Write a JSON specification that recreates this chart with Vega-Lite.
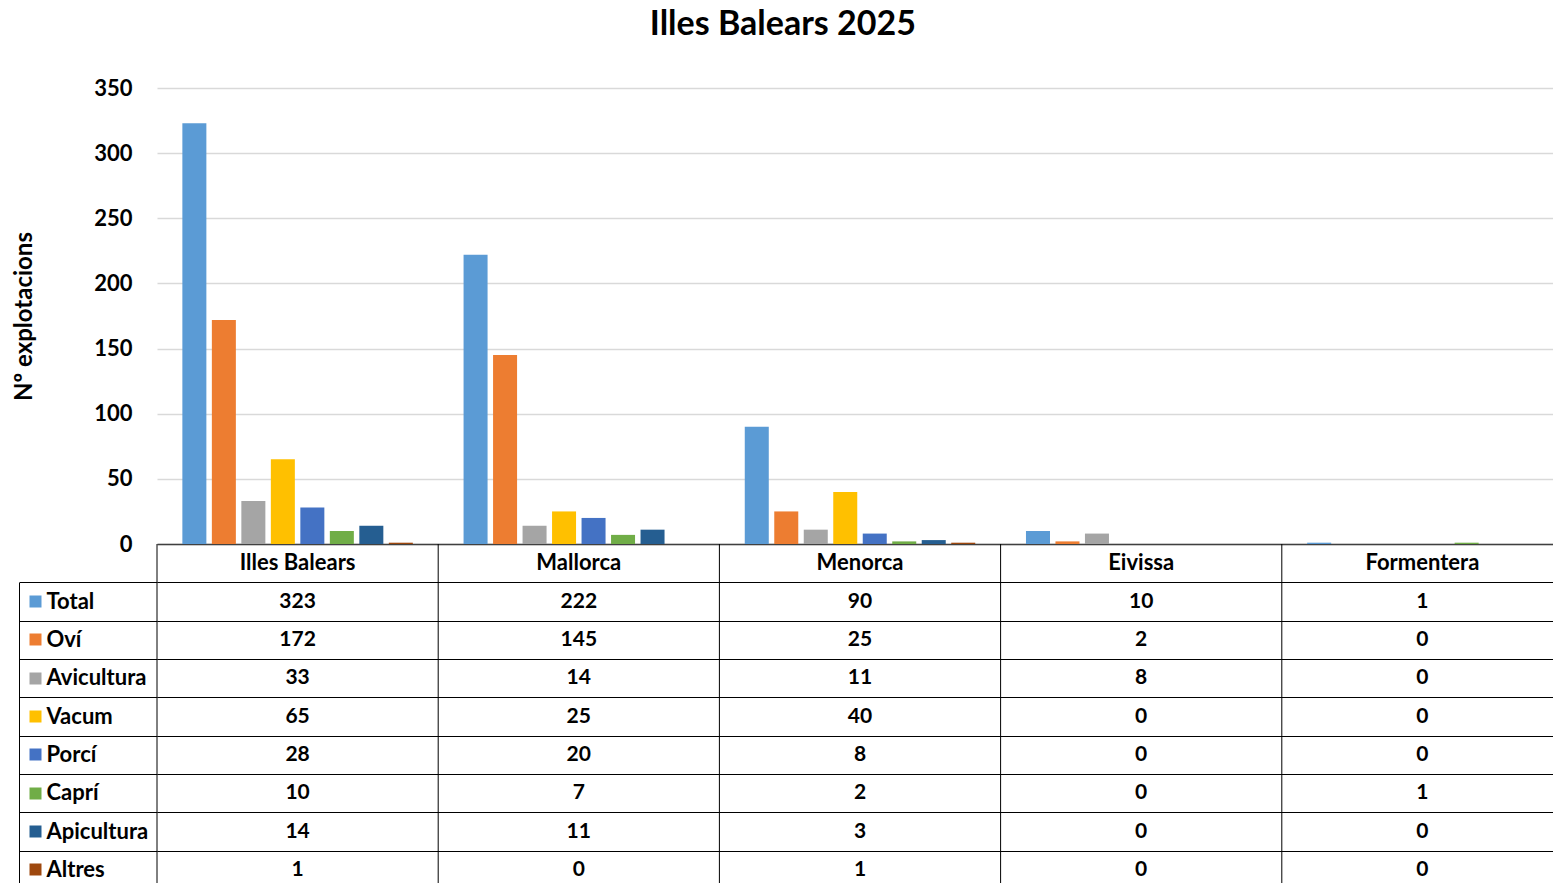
{
  "$schema": "https://vega.github.io/schema/vega-lite/v6.json",
  "padding": {"left": 12, "top": 8, "right": 0, "bottom": 0},
  "background": "white",
  "title": {"text": "Illes Balears 2025", "font": "Lato", "fontSize": 34, "fontWeight": "bold", "color": "black", "anchor": "middle", "offset": 35, "dx": -5},
  "datasets": {
    "d": [
      {"region": "Illes Balears", "series": "Total", "value": 323},
      {"region": "Illes Balears", "series": "Oví", "value": 172},
      {"region": "Illes Balears", "series": "Avicultura", "value": 33},
      {"region": "Illes Balears", "series": "Vacum", "value": 65},
      {"region": "Illes Balears", "series": "Porcí", "value": 28},
      {"region": "Illes Balears", "series": "Caprí", "value": 10},
      {"region": "Illes Balears", "series": "Apicultura", "value": 14},
      {"region": "Illes Balears", "series": "Altres", "value": 1},
      {"region": "Mallorca", "series": "Total", "value": 222},
      {"region": "Mallorca", "series": "Oví", "value": 145},
      {"region": "Mallorca", "series": "Avicultura", "value": 14},
      {"region": "Mallorca", "series": "Vacum", "value": 25},
      {"region": "Mallorca", "series": "Porcí", "value": 20},
      {"region": "Mallorca", "series": "Caprí", "value": 7},
      {"region": "Mallorca", "series": "Apicultura", "value": 11},
      {"region": "Mallorca", "series": "Altres", "value": 0},
      {"region": "Menorca", "series": "Total", "value": 90},
      {"region": "Menorca", "series": "Oví", "value": 25},
      {"region": "Menorca", "series": "Avicultura", "value": 11},
      {"region": "Menorca", "series": "Vacum", "value": 40},
      {"region": "Menorca", "series": "Porcí", "value": 8},
      {"region": "Menorca", "series": "Caprí", "value": 2},
      {"region": "Menorca", "series": "Apicultura", "value": 3},
      {"region": "Menorca", "series": "Altres", "value": 1},
      {"region": "Eivissa", "series": "Total", "value": 10},
      {"region": "Eivissa", "series": "Oví", "value": 2},
      {"region": "Eivissa", "series": "Avicultura", "value": 8},
      {"region": "Eivissa", "series": "Vacum", "value": 0},
      {"region": "Eivissa", "series": "Porcí", "value": 0},
      {"region": "Eivissa", "series": "Caprí", "value": 0},
      {"region": "Eivissa", "series": "Apicultura", "value": 0},
      {"region": "Eivissa", "series": "Altres", "value": 0},
      {"region": "Formentera", "series": "Total", "value": 1},
      {"region": "Formentera", "series": "Oví", "value": 0},
      {"region": "Formentera", "series": "Avicultura", "value": 0},
      {"region": "Formentera", "series": "Vacum", "value": 0},
      {"region": "Formentera", "series": "Porcí", "value": 0},
      {"region": "Formentera", "series": "Caprí", "value": 1},
      {"region": "Formentera", "series": "Apicultura", "value": 0},
      {"region": "Formentera", "series": "Altres", "value": 0}
    ]
  },
  "spacing": 0,
  "bounds": "flush",
  "vconcat": [
    {
      "width": 1406,
      "height": 456,
      "data": {"name": "d"},
      "mark": {"type": "bar"},
      "encoding": {
        "x": {"field": "region", "type": "nominal", "sort": null,
          "scale": {"domain": ["Illes Balears", "Mallorca", "Menorca", "Eivissa", "Formentera"], "paddingInner": 0, "paddingOuter": 0},
          "axis": {"title": null, "labels": false, "ticks": false, "grid": false, "domain": true, "domainColor": "#404040", "domainWidth": 1.5}},
        "xOffset": {"field": "series", "type": "nominal",
          "scale": {"domain": ["Total", "Oví", "Avicultura", "Vacum", "Porcí", "Caprí", "Apicultura", "Altres"], "paddingInner": 0.186, "paddingOuter": 0.86}},
        "y": {"field": "value", "type": "quantitative",
          "scale": {"domain": [0, 350], "nice": false},
          "axis": {"values": [0, 50, 100, 150, 200, 250, 300, 350], "title": "Nº explotacions",
            "titleFont": "Lato", "titleFontSize": 24, "titleFontWeight": "bold", "titleColor": "black", "titlePadding": 57,
            "labelFont": "Lato", "labelFontSize": 22, "labelFontWeight": "bold", "labelColor": "black", "labelPadding": 25,
            "ticks": false, "domain": false, "grid": true, "gridColor": "#D9D9D9", "gridWidth": 1.5}},
        "color": {"field": "series", "type": "nominal",
          "scale": {"domain": ["Total", "Oví", "Avicultura", "Vacum", "Porcí", "Caprí", "Apicultura", "Altres"],
            "range": ["#5B9BD5", "#ED7D31", "#A5A5A5", "#FFC000", "#4472C4", "#70AD47", "#255E91", "#9E480E"]},
          "legend": null}
      }
    },
    {
      "width": 1406,
      "height": 345,
      "data": {"name": "d"},
      "resolve": {"axis": {"y": "independent"}},
      "layer": [
        {
          "mark": {"type": "text", "opacity": 0},
          "encoding": {
            "x": {"field": "region", "type": "nominal", "sort": null,
              "scale": {"domain": ["Illes Balears", "Mallorca", "Menorca", "Eivissa", "Formentera"], "paddingInner": 0, "paddingOuter": 0},
              "axis": null},
            "y": {"field": "series", "type": "nominal", "sort": null,
              "scale": {"domain": ["hdr", "Total", "Oví", "Avicultura", "Vacum", "Porcí", "Caprí", "Apicultura", "Altres"], "paddingInner": 0, "paddingOuter": 0},
              "axis": {"orient": "left", "values": ["Total", "Oví", "Avicultura", "Vacum", "Porcí", "Caprí", "Apicultura", "Altres"],
                "offset": 138, "title": null, "labels": false, "ticks": true, "tickBand": "extent", "tickSize": -138, "tickColor": "black", "tickWidth": 1,
                "domain": true, "domainColor": "black", "domainWidth": 1, "domainDash": [0, 38.33, 1000, 0],
                "grid": true, "gridColor": "black", "gridWidth": 1, "gridOpacity": 1}},
            "text": {"field": "value", "type": "quantitative"}
          }
        },
        {
          "transform": [{"filter": "datum.series === 'Total'"}],
          "mark": {"type": "rule", "color": "black", "strokeWidth": 1},
          "encoding": {
            "x": {"field": "region", "type": "nominal", "sort": null, "bandPosition": 0,
              "scale": {"domain": ["Illes Balears", "Mallorca", "Menorca", "Eivissa", "Formentera"], "paddingInner": 0, "paddingOuter": 0},
              "axis": null}
          }
        },
        {
          "mark": {"type": "text", "font": "Lato", "fontSize": 21, "fontWeight": "bold", "color": "black"},
          "encoding": {
            "x": {"field": "region", "type": "nominal", "sort": null,
              "scale": {"domain": ["Illes Balears", "Mallorca", "Menorca", "Eivissa", "Formentera"], "paddingInner": 0, "paddingOuter": 0},
              "axis": null},
            "y": {"field": "series", "type": "nominal", "sort": null,
              "scale": {"domain": ["hdr", "Total", "Oví", "Avicultura", "Vacum", "Porcí", "Caprí", "Apicultura", "Altres"], "paddingInner": 0, "paddingOuter": 0},
              "axis": {"orient": "left", "values": ["Total", "Oví", "Avicultura", "Vacum", "Porcí", "Caprí", "Apicultura", "Altres"],
                "offset": 116, "title": null, "ticks": true, "tickBand": "center", "tickSize": 12, "tickWidth": 12, "tickCap": "butt",
                "tickColor": {"condition": [
                  {"test": "datum.value === 'Total'", "value": "#5B9BD5"},
                  {"test": "datum.value === 'Oví'", "value": "#ED7D31"},
                  {"test": "datum.value === 'Avicultura'", "value": "#A5A5A5"},
                  {"test": "datum.value === 'Vacum'", "value": "#FFC000"},
                  {"test": "datum.value === 'Porcí'", "value": "#4472C4"},
                  {"test": "datum.value === 'Caprí'", "value": "#70AD47"},
                  {"test": "datum.value === 'Apicultura'", "value": "#255E91"}
                ], "value": "#9E480E"},
                "labels": true, "labelAlign": "left", "labelPadding": -17, "labelFont": "Lato", "labelFontSize": 22, "labelFontWeight": "bold", "labelColor": "black",
                "domain": false, "grid": false}},
            "text": {"field": "value", "type": "quantitative"}
          }
        },
        {
          "transform": [{"filter": "datum.series === 'Total'"}],
          "mark": {"type": "text", "font": "Lato", "fontSize": 22, "fontWeight": "bold", "color": "black"},
          "encoding": {
            "x": {"field": "region", "type": "nominal", "sort": null,
              "scale": {"domain": ["Illes Balears", "Mallorca", "Menorca", "Eivissa", "Formentera"], "paddingInner": 0, "paddingOuter": 0},
              "axis": null},
            "y": {"datum": "hdr", "type": "nominal", "axis": null},
            "text": {"field": "region", "type": "nominal"}
          }
        }
      ]
    }
  ],
  "config": {"view": {"stroke": null}, "font": "Lato"}
}
